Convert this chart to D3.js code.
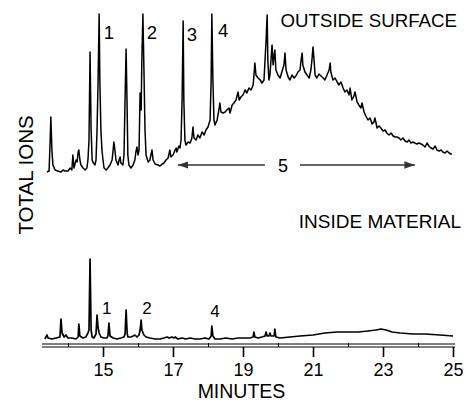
<!DOCTYPE html>
<html><head><meta charset="utf-8">
<script src="https://cdn.jsdelivr.net/npm/d3@7"></script>
<style>body{margin:0;background:#fff}svg{display:block}text{font-family:"Liberation Sans",Arial,sans-serif;fill:#000}</style>
</head><body><svg id="c" width="466" height="403"></svg>
<script>
// ---- data ----
const majorTicks = [15, 17, 19, 21, 23, 25];
const minorTicks = [14, 16, 18, 20, 22, 24];
const outsideTrace = [
[13.40,3],[13.46,4],[13.49,35],[13.51,58],[13.54,25],[13.57,10],[13.63,5],[13.71,4],[13.80,3],[13.86,5],
[13.91,4],[14.00,4],[14.06,7],[14.11,5],[14.14,20],[14.17,7],[14.23,15],[14.26,13],[14.29,23],[14.31,25],
[14.34,15],[14.37,10],[14.43,7],[14.49,5],[14.54,7],[14.57,15],[14.60,35],[14.63,123],[14.66,45],[14.69,15],
[14.71,13],[14.77,10],[14.80,15],[14.83,45],[14.86,95],[14.89,161],[14.91,95],[14.94,45],[14.97,25],[15.00,15],
[15.03,7],[15.09,5],[15.14,7],[15.20,10],[15.26,15],[15.29,25],[15.31,33],[15.34,25],[15.37,15],[15.43,10],
[15.46,15],[15.49,18],[15.51,12],[15.57,10],[15.60,20],[15.63,75],[15.66,126],[15.69,65],[15.71,20],[15.74,10],
[15.80,7],[15.86,10],[15.91,15],[15.94,23],[15.97,28],[16.00,20],[16.03,25],[16.06,82],[16.09,65],[16.11,115],
[16.14,161],[16.17,105],[16.20,45],[16.23,20],[16.29,13],[16.34,15],[16.40,25],[16.43,15],[16.49,11],[16.57,10],
[16.63,9],[16.69,11],[16.74,12],[16.80,15],[16.86,17],[16.91,25],[16.94,18],[17.00,20],[17.06,25],[17.09,27],
[17.11,23],[17.17,29],[17.20,27],[17.23,35],[17.26,75],[17.29,154],[17.31,75],[17.34,35],[17.37,30],[17.43,33],
[17.49,32],[17.54,37],[17.57,48],[17.60,37],[17.66,35],[17.71,40],[17.77,37],[17.83,43],[17.89,40],[17.94,45],
[18.00,48],[18.06,55],[18.09,95],[18.11,161],[18.14,95],[18.17,55],[18.20,50],[18.26,55],[18.31,65],[18.34,72],
[18.37,63],[18.43,62],[18.49,63],[18.54,65],[18.60,67],[18.63,62],[18.69,70],[18.74,72],[18.80,75],[18.86,83],
[18.89,75],[18.94,78],[19.00,80],[19.06,85],[19.11,82],[19.17,87],[19.23,85],[19.29,90],[19.34,112],[19.37,100],
[19.43,97],[19.49,95],[19.54,92],[19.60,95],[19.63,115],[19.66,135],[19.69,160],[19.71,115],[19.74,95],[19.77,100],
[19.80,115],[19.83,130],[19.86,110],[19.89,120],[19.91,125],[19.94,105],[20.00,100],[20.06,97],[20.11,103],[20.17,110],
[20.20,122],[20.23,105],[20.29,98],[20.34,95],[20.40,100],[20.46,97],[20.51,99],[20.57,103],[20.63,105],[20.66,115],
[20.69,122],[20.71,110],[20.77,103],[20.83,100],[20.89,97],[20.94,105],[20.97,115],[21.00,128],[21.03,115],[21.06,100],
[21.11,97],[21.17,101],[21.23,99],[21.29,97],[21.34,95],[21.40,100],[21.46,105],[21.49,112],[21.51,103],[21.57,95],
[21.63,97],[21.69,93],[21.74,90],[21.80,93],[21.86,87],[21.91,83],[21.97,85],[22.03,80],[22.06,87],[22.11,75],
[22.17,79],[22.20,83],[22.26,73],[22.31,70],[22.37,67],[22.40,72],[22.46,63],[22.51,59],[22.57,55],[22.63,57],
[22.69,51],[22.74,53],[22.77,57],[22.83,47],[22.89,49],[22.94,47],[23.00,44],[23.06,45],[23.11,42],[23.17,40],
[23.23,42],[23.29,39],[23.34,38],[23.40,38],[23.46,37],[23.51,35],[23.57,37],[23.63,34],[23.69,33],[23.74,35],
[23.80,32],[23.86,33],[23.91,32],[23.97,31],[24.03,32],[24.09,31],[24.14,30],[24.20,28],[24.26,32],[24.31,29],
[24.37,27],[24.43,26],[24.49,29],[24.54,25],[24.60,24],[24.66,25],[24.71,23],[24.77,22],[24.83,24],[24.89,22],
[24.94,21],[24.97,21]
];
const insideTrace = [
[13.34,1],[13.40,5],[13.43,2],[13.54,1],[13.66,2],[13.77,3],[13.80,21],[13.83,7],[13.89,3],[13.94,5],
[14.00,2],[14.11,2],[14.23,1],[14.29,3],[14.31,16],[14.34,4],[14.43,2],[14.51,3],[14.57,7],[14.60,10],
[14.63,81],[14.66,10],[14.69,3],[14.74,2],[14.80,6],[14.83,25],[14.86,12],[14.89,7],[14.94,3],[15.03,2],
[15.11,2],[15.14,4],[15.17,17],[15.20,4],[15.29,2],[15.40,1],[15.51,2],[15.60,3],[15.63,6],[15.66,30],
[15.69,7],[15.71,3],[15.80,3],[15.86,4],[15.91,5],[15.97,3],[16.03,5],[16.06,10],[16.09,20],[16.11,10],
[16.17,5],[16.23,3],[16.34,2],[16.49,1],[16.63,1],[16.74,2],[16.83,3],[16.89,2],[16.97,3],[17.03,2],
[17.06,3],[17.14,1],[17.26,2],[17.37,1],[17.49,2],[17.63,1],[17.77,1],[17.91,2],[18.03,1],[18.09,4],
[18.11,14],[18.14,4],[18.20,1],[18.34,1],[18.51,2],[18.69,1],[18.86,2],[19.03,2],[19.20,2],[19.29,3],
[19.31,8],[19.34,3],[19.43,2],[19.54,3],[19.63,4],[19.66,8],[19.69,4],[19.74,4],[19.77,7],[19.80,4],
[19.89,4],[19.91,11],[19.94,3],[20.06,2],[20.34,3],[20.63,4],[21.00,5],[21.34,7],[21.69,8],[21.97,8],
[22.29,8],[22.57,9],[22.80,10],[22.94,11],[23.09,10],[23.26,8],[23.49,7],[23.86,6],[24.20,6],[24.63,5],
[25.00,4]
];
const outsidePeakLabels = [["1",15.17],["2",16.40],["3",17.54],["4",18.43]];
const insidePeakLabels = [["1",15.11],["2",16.26],["4",18.20]];
const humpRange = [17.14, 23.91];
const humpLabel = ["5", 20.14];
const axisRange = [13.257, 25.06];

// ---- drawing ----
const svg = d3.select("#c");
const x = d3.scaleLinear().domain([15, 25]).range([103, 453]);
const yUp = d3.scaleLinear().domain([0, 161]).range([175, 14]);
const yLow = d3.scaleLinear().domain([0, 81]).range([340, 259]);

svg.append("rect").attr("width",466).attr("height",403).attr("fill","#fff");

const lineUp = d3.line().x(d => x(d[0])).y(d => yUp(d[1]));
const lineLow = d3.line().x(d => x(d[0])).y(d => yLow(d[1]));

svg.append("path").attr("d", lineUp(outsideTrace)).attr("fill","none")
  .attr("stroke","#000").attr("stroke-width",1.5).attr("stroke-linejoin","round");
svg.append("path").attr("d", lineLow(insideTrace)).attr("fill","none")
  .attr("stroke","#000").attr("stroke-width",1.7).attr("stroke-linejoin","round");

// peak labels
svg.selectAll(".pu").data(outsidePeakLabels).join("text")
  .attr("x", d => x(d[1])).attr("y", (d,i) => i===2 ? 41 : (i===3 ? 37 : 39))
  .attr("text-anchor","middle").attr("font-size",18.5).text(d => d[0]);
svg.selectAll(".pl").data(insidePeakLabels).join("text")
  .attr("x", d => x(d[1])).attr("y", (d,i) => i===2 ? 317 : 314)
  .attr("text-anchor","middle").attr("font-size",17).text(d => d[0]);

// hump arrow
const defs = svg.append("defs");
["s","e"].forEach(k => {
  defs.append("marker").attr("id","ar"+k).attr("viewBox","0 0 10 10")
    .attr("refX", 10).attr("refY",5).attr("markerWidth",7).attr("markerHeight",7)
    .attr("orient", k==="s" ? "auto-start-reverse" : "auto")
    .append("path").attr("d","M0,1.5L10,5L0,8.5Z").attr("fill","#333");
});
const ay = 165;
svg.append("line").attr("x1", x(humpRange[0])).attr("x2", x(humpLabel[1]) - 18)
  .attr("y1", ay).attr("y2", ay).attr("stroke","#333").attr("stroke-width",1.5)
  .attr("marker-start","url(#ars)");
svg.append("line").attr("x1", x(humpLabel[1]) + 17).attr("x2", x(humpRange[1]))
  .attr("y1", ay).attr("y2", ay).attr("stroke","#333").attr("stroke-width",1.5)
  .attr("marker-end","url(#are)");
svg.append("text").attr("x", x(humpLabel[1])).attr("y", 171.5).attr("text-anchor","middle")
  .attr("font-size",18).text(humpLabel[0]);

// axis (double ruler line)
[344, 347].forEach(yy => svg.append("line").attr("x1", x(axisRange[0])).attr("x2", x(axisRange[1]))
  .attr("y1", yy).attr("y2", yy).attr("stroke","#000").attr("stroke-width",1));

const gMaj = svg.append("g").attr("transform","translate(0,347)")
  .call(d3.axisBottom(x).tickValues(majorTicks).tickSize(10).tickFormat(d3.format("d")));
gMaj.select(".domain").remove();
gMaj.selectAll(".tick line").attr("stroke","#000").attr("stroke-width",1.6);
gMaj.selectAll(".tick text").attr("y",29).attr("dy",0).attr("font-size",18)
  .attr("font-family",'"Liberation Sans",Arial,sans-serif').attr("fill","#000");

const gMin = svg.append("g").attr("transform","translate(0,343)")
  .call(d3.axisBottom(x).tickValues(minorTicks).tickSize(4).tickFormat(""));
gMin.select(".domain").remove();
gMin.selectAll(".tick line").attr("stroke","#000").attr("stroke-width",1);

// titles
svg.append("text").attr("x",457).attr("y",27).attr("text-anchor","end").attr("font-size",18.7).text("OUTSIDE SURFACE");
svg.append("text").attr("x",461).attr("y",228).attr("text-anchor","end").attr("font-size",19).text("INSIDE MATERIAL");
svg.append("text").attr("transform","translate(33,175) rotate(-90)").attr("text-anchor","middle")
  .attr("font-size",20.5).text("TOTAL IONS");
svg.append("text").attr("x",241.5).attr("y",398).attr("text-anchor","middle").attr("font-size",19.5).text("MINUTES");
</script></body></html>
